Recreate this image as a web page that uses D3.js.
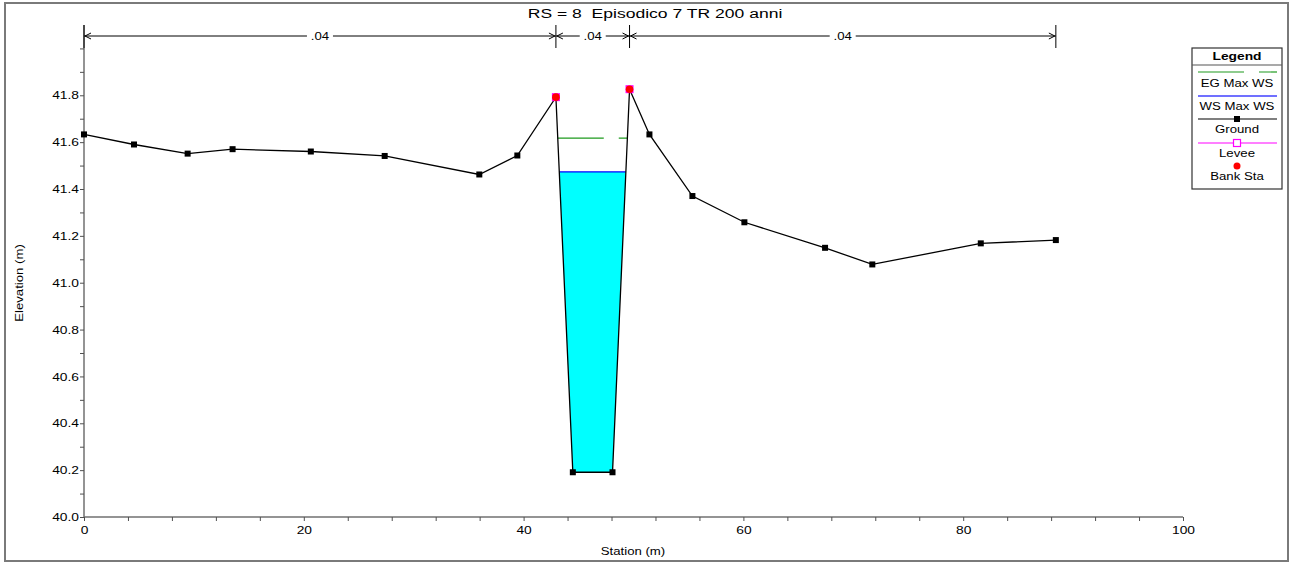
<!DOCTYPE html>
<html>
<head>
<meta charset="utf-8">
<script src="https://cdn.jsdelivr.net/npm/d3@7"></script>
<style>
  body { margin: 0; background: #fff; }
  svg { display: block; font-family: "Liberation Sans", Arial, sans-serif; }
</style>
</head>
<body>
<svg id="chart" width="1293" height="562"></svg>
<script>
// --- data ---
const stations   = [0, 4.55, 9.43, 13.52, 20.64, 27.36, 35.97, 39.43, 42.94, 44.48, 48.09, 49.64, 51.45, 55.36, 60.09, 67.43, 71.73, 81.6, 88.43];
const elevations = [41.633, 41.59, 41.551, 41.57, 41.56, 41.541, 41.462, 41.543, 41.792, 40.191, 40.191, 41.826, 41.633, 41.37, 41.258, 41.149, 41.078, 41.168, 41.182];
const bankStations = [42.94, 49.64];
const bankElev     = [41.792, 41.826];
const manningEdges = [0, 42.94, 49.64, 88.43];
const manningN     = [".04", ".04", ".04"];
const wsMax = 41.473;
const egMax = 41.617;
const legendItems = ["EG Max WS", "WS Max WS", "Ground", "Levee", "Bank Sta"];

const svg = d3.select("#chart");
const SX = 1.2; // the original text is drawn wide

const x = d3.scaleLinear().domain([0, 100]).range([84, 1183]);
const y = d3.scaleLinear().domain([40, 42.1]).range([517, 25]);

function wideText(g, px, py, str, opts = {}) {
    return g.append("text")
        .attr("transform", `translate(${px},${py}) scale(${opts.sx || SX},1)`)
        .attr("text-anchor", opts.anchor || "middle")
        .attr("font-size", opts.size || 11)
        .attr("font-weight", opts.weight || "normal")
        .attr("fill", "#000")
        .text(str);
}

// outer frame
svg.append("rect")
    .attr("x", 5).attr("y", 3).attr("width", 1283).attr("height", 558)
    .attr("fill", "#fff").attr("stroke", "#7a7a7a").attr("stroke-width", 2);

// title
wideText(svg, 655, 18, "RS = 8  Episodico 7 TR 200 anni", {size: 13.5, sx: 1.3})
    .style("white-space", "pre");

// axes
const xAxis = d3.axisBottom(x)
    .tickValues(d3.range(0, 101, 4))
    .tickSize(4)
    .tickFormat(d => d % 20 === 0 ? d : "");
const yAxis = d3.axisLeft(y)
    .tickValues(d3.range(0, 21).map(i => 40 + i * 0.1))
    .tickSize(4)
    .tickFormat(d => {
        const k = Math.round(d * 10);
        return (k % 2 === 0 && k < 420) ? d3.format(".1f")(d) : "";
    });

const gx = svg.append("g").attr("transform", `translate(0,${y(40)})`).call(xAxis);
const gy = svg.append("g").attr("transform", `translate(${x(0)},0)`).call(yAxis);
[gx, gy].forEach(g => {
    g.select(".domain").attr("stroke", "#707070").attr("stroke-width", 1.5);
    g.selectAll(".tick line").attr("stroke", "#505050");
    g.selectAll(".tick text").attr("font-size", 11.5).attr("font-family", "Liberation Sans, Arial, sans-serif").attr("fill", "#000");
});
gx.selectAll(".tick text").attr("dy", "0.9em").attr("transform", `scale(${SX},1)`);
gy.selectAll(".tick text").attr("transform", `scale(${SX},1)`).attr("x", -5 / SX);
// y-axis extends to the top of the plot
gy.select(".domain").attr("d", `M0,${y(42.1)}V${y(40)}`);
gx.select(".domain").attr("d", `M${x(0)},0H${x(100)}`);

wideText(svg, 633, 555, "Station (m)", {size: 11});
svg.append("text")
    .attr("transform", `translate(23,283) rotate(-90) scale(${SX},1)`)
    .attr("text-anchor", "middle").attr("font-size", 11).text("Elevation (m)");

// Manning's n bars along the top
const nY = 36;
const topG = svg.append("g").attr("stroke", "#000").attr("stroke-width", 1);
manningEdges.forEach(s => {
    topG.append("line").attr("x1", x(s)).attr("x2", x(s)).attr("y1", 25).attr("y2", 48);
});
manningN.forEach((n, i) => {
    const a = x(manningEdges[i]), b = x(manningEdges[i + 1]);
    const mid = (a + b) / 2;
    const half = 13;
    topG.append("line").attr("x1", a).attr("x2", mid - half).attr("y1", nY).attr("y2", nY);
    topG.append("line").attr("x1", mid + half).attr("x2", b).attr("y1", nY).attr("y2", nY);
    // arrow heads pointing at each bar
    topG.append("path").attr("fill", "none")
        .attr("d", `M${a + 7},${nY - 3}L${a + 1},${nY}L${a + 7},${nY + 3}`);
    topG.append("path").attr("fill", "none")
        .attr("d", `M${b - 7},${nY - 3}L${b - 1},${nY}L${b - 7},${nY + 3}`);
    wideText(svg, mid, nY + 4, n, {size: 11});
});

// helper: crossings of a level with the ground around the channel bottom
const ground = stations.map((s, i) => ({s, z: elevations[i]}));
let low = d3.minIndex(ground, d => d.z);
function crossing(level) {
    let i = low;
    while (i > 0 && ground[i - 1].z < level) i--;
    const a = ground[i - 1], b = ground[i];
    const left = {s: a.s + (b.s - a.s) * (a.z - level) / (a.z - b.z), z: level, i};
    let j = low;
    while (j < ground.length - 1 && ground[j + 1].z < level) j++;
    const c = ground[j], d = ground[j + 1];
    const right = {s: c.s + (d.s - c.s) * (level - c.z) / (d.z - c.z), z: level, j};
    return [left, right];
}

// water fill
const [wl, wr] = crossing(wsMax);
const waterPts = [wl].concat(ground.slice(wl.i, wr.j + 1)).concat([wr]);
svg.append("path")
    .attr("d", d3.line().x(d => x(d.s)).y(d => y(d.z))(waterPts) + "Z")
    .attr("fill", "#00ffff");
svg.append("line")
    .attr("x1", x(wl.s)).attr("x2", x(wr.s)).attr("y1", y(wsMax)).attr("y2", y(wsMax))
    .attr("stroke", "#0000ff").attr("stroke-width", 1.3);

// energy grade line
const [el, er] = crossing(egMax);
svg.append("line")
    .attr("x1", x(el.s)).attr("x2", x(er.s)).attr("y1", y(egMax)).attr("y2", y(egMax))
    .attr("stroke", "#1e9a1e").attr("stroke-width", 1.2).attr("stroke-dasharray", "46,15");

// ground line and points
svg.append("path")
    .attr("d", d3.line().x(d => x(d.s)).y(d => y(d.z))(ground))
    .attr("fill", "none").attr("stroke", "#000").attr("stroke-width", 1.3);
svg.append("g").selectAll("rect")
    .data(ground)
    .join("rect")
    .attr("x", d => x(d.s) - 3).attr("y", d => y(d.z) - 3)
    .attr("width", 6).attr("height", 6).attr("fill", "#000");

// levee + bank station markers
bankStations.forEach((s, i) => {
    svg.append("rect")
        .attr("x", x(s) - 4).attr("y", y(bankElev[i]) - 4).attr("width", 8).attr("height", 8)
        .attr("fill", "#ff00ff");
    svg.append("circle")
        .attr("cx", x(s)).attr("cy", y(bankElev[i])).attr("r", 3.8).attr("fill", "#ff0000");
});

// legend
const lg = svg.append("g");
lg.append("rect").attr("x", 1192).attr("y", 48).attr("width", 90).attr("height", 141)
    .attr("fill", "#fff").attr("stroke", "#333").attr("stroke-width", 1.2);
lg.append("line").attr("x1", 1192).attr("x2", 1282).attr("y1", 65).attr("y2", 65)
    .attr("stroke", "#555").attr("stroke-width", 1.2);
wideText(lg, 1237, 60, "Legend", {size: 11.5, weight: "bold", sx: 1.2});

const lx0 = 1198, lx1 = 1277;
const symY = [72, 96, 119, 143, 166];
const txtY = [87, 110, 133, 157, 180];
lg.append("line").attr("x1", lx0).attr("x2", lx1).attr("y1", symY[0]).attr("y2", symY[0])
    .attr("stroke", "#1e9a1e").attr("stroke-width", 1.2).attr("stroke-dasharray", "46,15");
lg.append("line").attr("x1", lx0).attr("x2", lx1).attr("y1", symY[1]).attr("y2", symY[1])
    .attr("stroke", "#4040ff").attr("stroke-width", 1.5);
lg.append("line").attr("x1", lx0).attr("x2", lx1).attr("y1", symY[2]).attr("y2", symY[2])
    .attr("stroke", "#000").attr("stroke-width", 1.2);
lg.append("rect").attr("x", 1237 - 3).attr("y", symY[2] - 3).attr("width", 6).attr("height", 6).attr("fill", "#000");
lg.append("line").attr("x1", lx0).attr("x2", lx1).attr("y1", symY[3]).attr("y2", symY[3])
    .attr("stroke", "#ff00ff").attr("stroke-width", 1.2);
lg.append("rect").attr("x", 1237 - 3.5).attr("y", symY[3] - 3.5).attr("width", 7).attr("height", 7)
    .attr("fill", "#fff").attr("stroke", "#ff00ff").attr("stroke-width", 1.2);
lg.append("circle").attr("cx", 1237).attr("cy", symY[4]).attr("r", 3.5).attr("fill", "#ff0000");
legendItems.forEach((t, i) => wideText(lg, 1237, txtY[i], t, {size: 11.5, sx: 1.15}));
</script>
</body>
</html>
